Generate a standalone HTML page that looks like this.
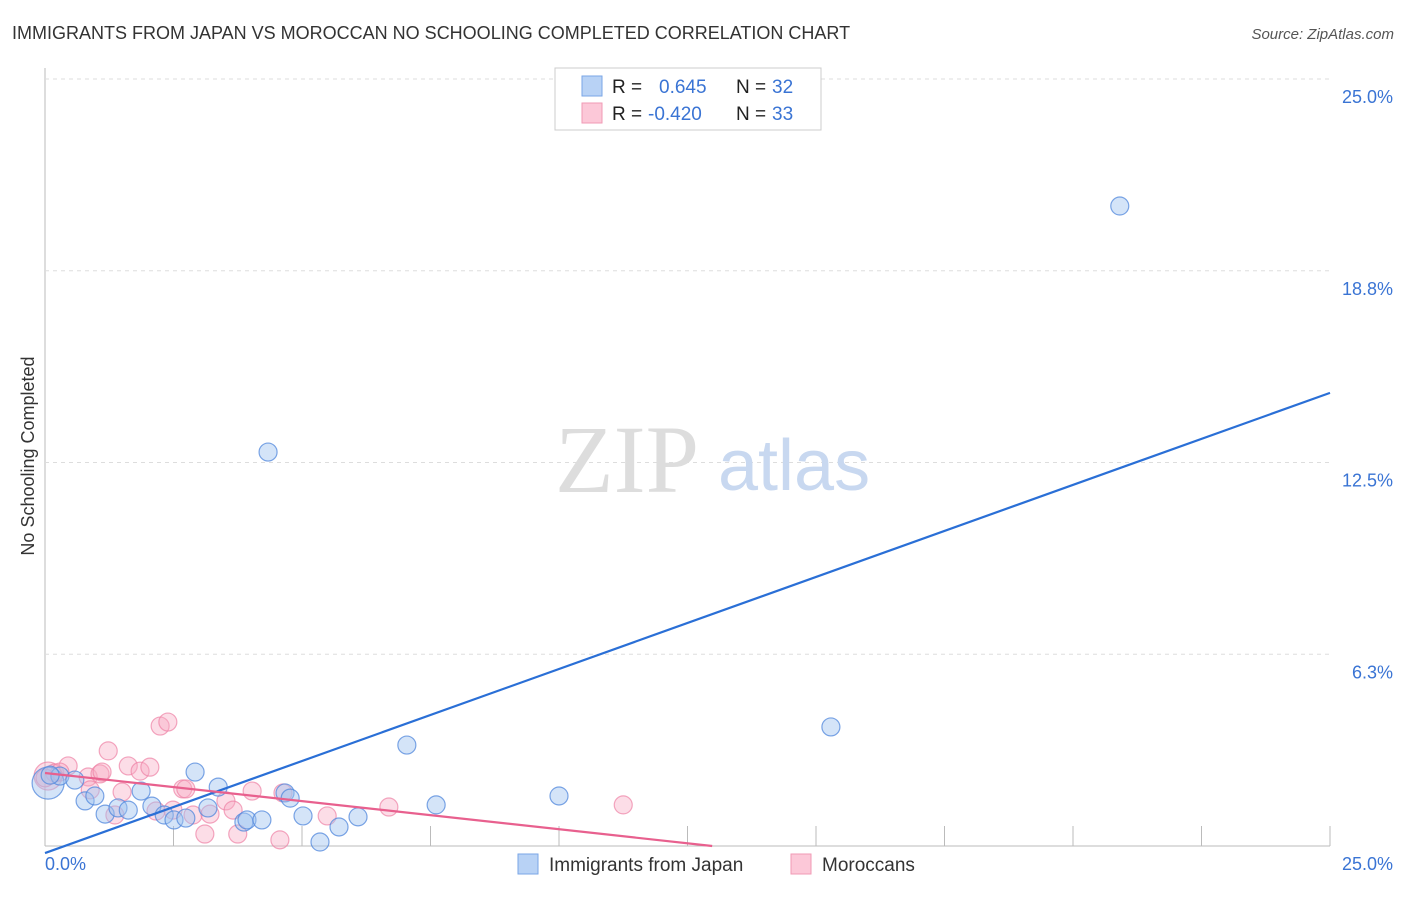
<!DOCTYPE html>
<html><head><meta charset="utf-8"><style>
body{margin:0;background:#fff;font-family:"Liberation Sans",sans-serif}
</style></head><body>
<svg id="chart" width="1406" height="892" xmlns="http://www.w3.org/2000/svg" font-family="Liberation Sans, sans-serif">
<text x="12" y="39" font-size="18" fill="#333">IMMIGRANTS FROM JAPAN VS MOROCCAN NO SCHOOLING COMPLETED CORRELATION CHART</text>
<text x="1394" y="39" font-size="15" fill="#555" font-style="italic" text-anchor="end">Source: ZipAtlas.com</text>
<text transform="translate(34,456) rotate(-90)" font-size="18" fill="#333" text-anchor="middle">No Schooling Completed</text>
<g id="grid"></g>
<text x="555" y="492" font-size="96" fill="#ddd" font-family="Liberation Serif, serif">ZIP</text>
<text x="718" y="490" font-size="72" fill="#c8d8f0">atlas</text>
<g id="points"></g>
<g id="lines"></g>
<g>
<rect x="555" y="68" width="266" height="62" fill="#fff" stroke="#ccc"/>
<rect x="582" y="76" width="20" height="20" fill="#b8d2f5" stroke="#7aa6e6"/>
<rect x="582" y="103" width="20" height="20" fill="#fcc8d8" stroke="#f09ab5"/>
<text x="612" y="93" font-size="19" fill="#222">R =</text>
<text x="659" y="93" font-size="19" fill="#3a74d4">0.645</text>
<text x="736" y="93" font-size="19" fill="#222">N =</text>
<text x="772" y="93" font-size="19" fill="#3a74d4">32</text>
<text x="612" y="120" font-size="19" fill="#222">R =</text>
<text x="648" y="120" font-size="19" fill="#3a74d4">-0.420</text>
<text x="736" y="120" font-size="19" fill="#222">N =</text>
<text x="772" y="120" font-size="19" fill="#3a74d4">33</text>
</g>
<g>
<rect x="518" y="854" width="20" height="20" fill="#b8d2f5" stroke="#7aa6e6"/>
<text x="549" y="871" font-size="19" fill="#333">Immigrants from Japan</text>
<rect x="791" y="854" width="20" height="20" fill="#fcc8d8" stroke="#f09ab5"/>
<text x="822" y="871" font-size="19" fill="#333">Moroccans</text>
</g>
</svg>
<script>
const xTickVals=[0,25];
const yTickVals=[6.25,12.5,18.75,25];
const yTickLabels=["6.3%","12.5%","18.8%","25.0%"];
const xTickLabels=["0.0%","25.0%"];
const japanX=[0.06,0.29,0.58,0.78,0.97,1.17,1.42,1.62,1.87,2.08,2.32,2.51,2.74,2.92,3.17,3.37,3.87,3.93,4.22,4.34,4.67,4.77,5.02,5.35,5.72,6.09,7.04,7.61,10.0,15.29,20.91,0.10];
const japanY=[2.05,2.28,2.15,1.47,1.63,1.04,1.24,1.17,1.79,1.30,1.01,0.85,0.91,2.41,1.24,1.92,0.78,0.85,0.85,12.84,1.73,1.56,0.98,0.13,0.62,0.95,3.29,1.34,1.63,3.88,20.86,2.31];
const morX=[0.06,0.19,0.45,0.84,1.07,1.23,1.36,1.50,1.11,1.62,1.85,2.04,2.16,2.24,2.39,2.49,2.68,2.74,2.88,3.11,3.21,3.52,3.66,3.75,4.03,4.57,4.63,5.49,6.69,11.25,0.29,0.0,0.88];
const morY=[2.28,2.38,2.61,2.25,2.35,3.10,1.01,1.76,2.41,2.61,2.44,2.57,1.14,3.91,4.04,1.17,1.86,1.86,1.01,0.39,1.04,1.47,1.17,0.39,1.79,0.20,1.73,0.98,1.27,1.34,2.41,2.22,1.83];
const japanLine=[[0,-0.23],[25,14.77]];
const morLine=[[0,2.38],[12.98,0]];
const NS="http://www.w3.org/2000/svg";
const sx=v=>45+v/25*1285;
const sy=v=>846-v/25*767;
function mk(t,a,p){const e=document.createElementNS(NS,t);for(const k in a)e.setAttribute(k,a[k]);p.appendChild(e);return e;}
const grid=document.getElementById('grid');
const ax=mk('line',{x1:45,y1:68,x2:45,y2:846,stroke:'#bbb'},grid);


const bx=mk('line',{x1:45,y1:846,x2:1330,y2:846,stroke:'#bbb'},grid);


for(let i=1;i<=10;i++){const t=mk('line',{x1:sx(i*2.5),x2:sx(i*2.5),y1:826,y2:846,stroke:'#bbb'},grid);

}
yTickVals.forEach((v,i)=>{const g=mk('line',{x1:45,x2:1330,y1:sy(v),y2:sy(v),stroke:'#ddd','stroke-dasharray':'4,4'},grid);


const t=mk('text',{x:1393,y:sy(v)+24,'font-size':18,fill:'#3a74d4','text-anchor':'end'},grid);t.textContent=yTickLabels[i];

});
xTickVals.forEach((v,i)=>{const t=mk('text',{x:i?1393:45,y:870,'font-size':18,fill:'#3a74d4','text-anchor':i?'end':'start'},grid);t.textContent=xTickLabels[i];

});
const pts=document.getElementById('points');
morX.forEach((x,i)=>{const c=mk('circle',{cx:sx(x),cy:sy(morY[i]),r:i==0?14:9,fill:'rgba(248,170,195,0.4)',stroke:'rgba(238,130,165,0.7)','stroke-width':1.2},pts);

});
japanX.forEach((x,i)=>{const c=mk('circle',{cx:sx(x),cy:sy(japanY[i]),r:i==0?16:9,fill:'rgba(160,195,240,0.45)',stroke:'rgba(80,135,220,0.75)','stroke-width':1.2},pts);

});
const ln=document.getElementById('lines');
const l1=mk('line',{x1:sx(japanLine[0][0]),y1:sy(japanLine[0][1]),x2:sx(japanLine[1][0]),y2:sy(japanLine[1][1]),stroke:'#2a6fd6','stroke-width':2.2},ln);


const l2=mk('line',{x1:sx(morLine[0][0]),y1:sy(morLine[0][1]),x2:sx(morLine[1][0]),y2:sy(morLine[1][1]),stroke:'#e8608e','stroke-width':2.2},ln);


</script>
</body></html>
